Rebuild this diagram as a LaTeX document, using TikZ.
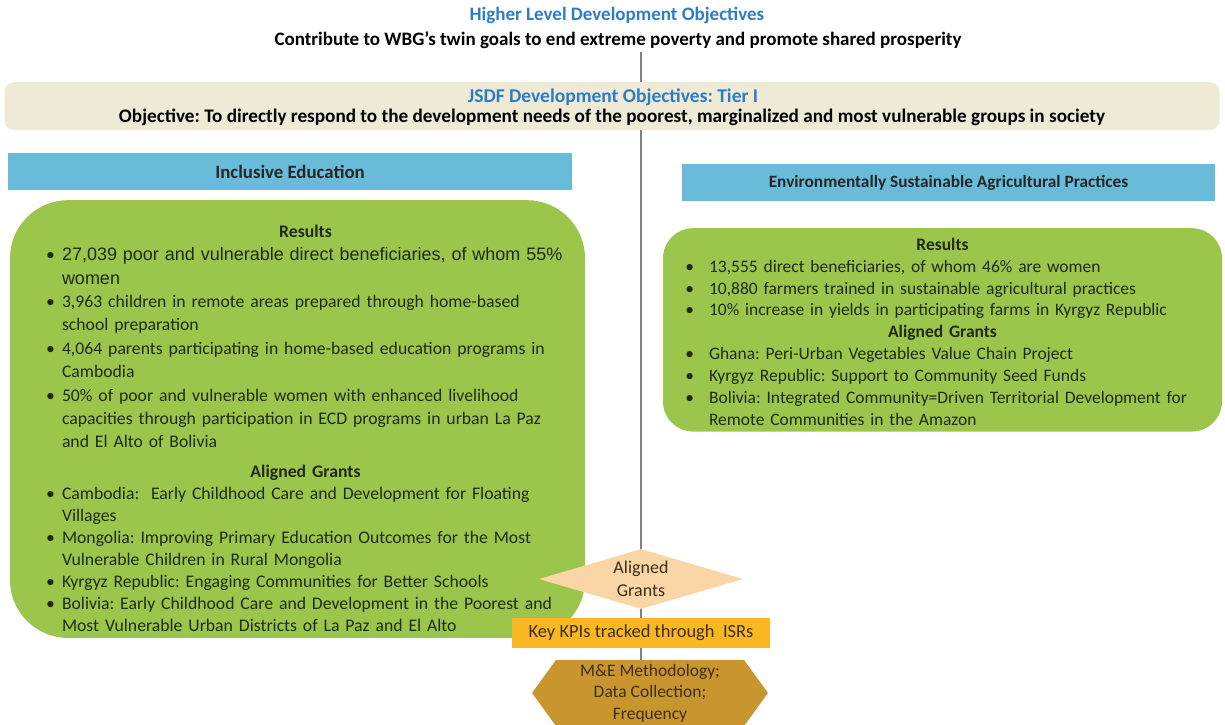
\documentclass[tikz,border=0pt]{standalone}
\usepackage{fontspec}
\setmainfont{Carlito}
\newfontfamily\arialfont{Liberation Sans}
\usepackage{enumitem}
\usetikzlibrary{shapes.geometric,shapes.symbols,backgrounds}
\definecolor{titleblue}{HTML}{2E7CC6}
\definecolor{bandbeige}{HTML}{EFEAD5}
\definecolor{headblue}{HTML}{68BCDA}
\definecolor{boxgreen}{HTML}{9CC64B}
\definecolor{diapeach}{HTML}{FAD6A6}
\definecolor{kpiorange}{HTML}{F9B822}
\definecolor{methbrown}{HTML}{C8952E}
\definecolor{greentext}{HTML}{1F2A12}
\definecolor{flowbrown}{HTML}{3E2E14}
\definecolor{linegray}{HTML}{808080}
\newcommand{\fs}[2]{\fontsize{#1}{#2}\selectfont}
\setlist[itemize]{label=\textbullet, topsep=0pt, partopsep=0pt, parsep=0pt, itemsep=0pt}
\frenchspacing

\begin{document}
\begin{tikzpicture}[x=1pt, y=-1pt,
  headbar/.style={fill=headblue, font=\bfseries, text=black!85},
  greenbox/.style={fill=boxgreen, text=greentext, align=left},
  flowtext/.style={text=flowbrown, align=center, inner sep=0pt}]
\useasboundingbox (0,0) rectangle (1225,724);

\node[text=titleblue, font=\bfseries\fs{19}{22}] (title) at (617,15) {Higher Level Development Objectives};
\node[font=\bfseries\fs{19}{22}] (goal) at (618,40) {Contribute to WBG’s twin goals to end extreme poverty and promote shared prosperity};

\node[fill=bandbeige, rounded corners=10pt, minimum width=1215pt, minimum height=48pt] (band) at (612,106) {};
\node[text=titleblue, font=\bfseries\fs{19.5}{22}] (tier) at (613,97) {JSDF Development Objectives: Tier I};
\node[font=\bfseries\fs{19.2}{22}] (objective) at (612,117) {Objective: To directly respond to the development needs of the poorest, marginalized and most vulnerable groups in society};

\node[headbar, minimum width=564pt, minimum height=37pt, font=\bfseries\fs{18.8}{22}] (eduhead) at (290,171.5) {Inclusive Education};
\node[headbar, minimum width=533pt, minimum height=37pt, font=\bfseries\fs{17.3}{20}] (agrihead) at (948.5,182.5) {Environmentally Sustainable Agricultural Practices};

\node[greenbox, rounded corners=58pt, text width=560pt, inner xsep=7.5pt, inner ysep=6pt, anchor=north, font=\fs{17.7}{23.4}] (edubox) at (297.5,200) {%
{\centering\bfseries\rule{0pt}{31pt}\hspace*{16pt}Results\par}
\begin{itemize}[leftmargin=44.5pt, labelsep=7pt]
\item {\arialfont\fs{18}{23.4}27,039 poor and vulnerable direct beneficiaries, of whom 55\%\\ women}
\item 3,963 children in remote areas prepared through home-based\\ school preparation
\item 4,064 parents participating in home-based education programs in\\ Cambodia
\item 50\% of poor and vulnerable women with enhanced livelihood\\ capacities through participation in ECD programs in urban La Paz\\ and El Alto of Bolivia
\end{itemize}
\fs{17.7}{22}\vspace{8pt}
{\centering\bfseries\hspace*{16pt}Aligned Grants\par}
\begin{itemize}[leftmargin=44.5pt, labelsep=7pt]
\item Cambodia:\ \ Early Childhood Care and Development for Floating\\ Villages
\item Mongolia: Improving Primary Education Outcomes for the Most\\ Vulnerable Children in Rural Mongolia
\item Kyrgyz Republic: Engaging Communities for Better Schools
\item Bolivia: Early Childhood Care and Development in the Poorest and\\ Most Vulnerable Urban Districts of La Paz and El Alto
\end{itemize}};

\node[greenbox, rounded corners=30pt, text width=543pt, inner xsep=8pt, inner ysep=6pt, anchor=north, font=\fs{17.5}{21.9}] (agribox) at (942.5,228) {%
{\centering\bfseries\rule{0pt}{16pt}Results\par}
\begin{itemize}[leftmargin=38pt, labelsep=15pt]
\item 13,555 direct beneficiaries, of whom 46\% are women
\item 10,880 farmers trained in sustainable agricultural practices
\item 10\% increase in yields in participating farms in Kyrgyz Republic
\end{itemize}
{\centering\bfseries Aligned Grants\par}
\begin{itemize}[leftmargin=38pt, labelsep=15pt]
\item Ghana: Peri-Urban Vegetables Value Chain Project
\item Kyrgyz Republic: Support to Community Seed Funds
\item Bolivia: Integrated Community=Driven Territorial Development for\\ Remote Communities in the Amazon
\end{itemize}};

\node[diamond, aspect=3.3, fill=diapeach, minimum width=204pt, minimum height=60pt, flowtext, font=\fs{18}{23}] (grants) at (641,579) {Aligned\\Grants};
\node[fill=kpiorange, minimum width=258pt, minimum height=30pt, flowtext, font=\fs{18.5}{21}] (kpi) at (641,633) {Key KPIs tracked through\ \ ISRs};
\node[signal, signal to=west and east, signal pointer angle=108, fill=methbrown, minimum width=236pt, minimum height=66pt, flowtext, font=\fs{17.5}{21.5}] (meth) at (650,693) {M\&E Methodology;\\Data Collection;\\Frequency};

\begin{scope}[on background layer]
\draw[linegray, line width=1.2pt] (grants.center |- goal.south) -- (grants.center |- meth.north);
\end{scope}
\end{tikzpicture}
\end{document}
